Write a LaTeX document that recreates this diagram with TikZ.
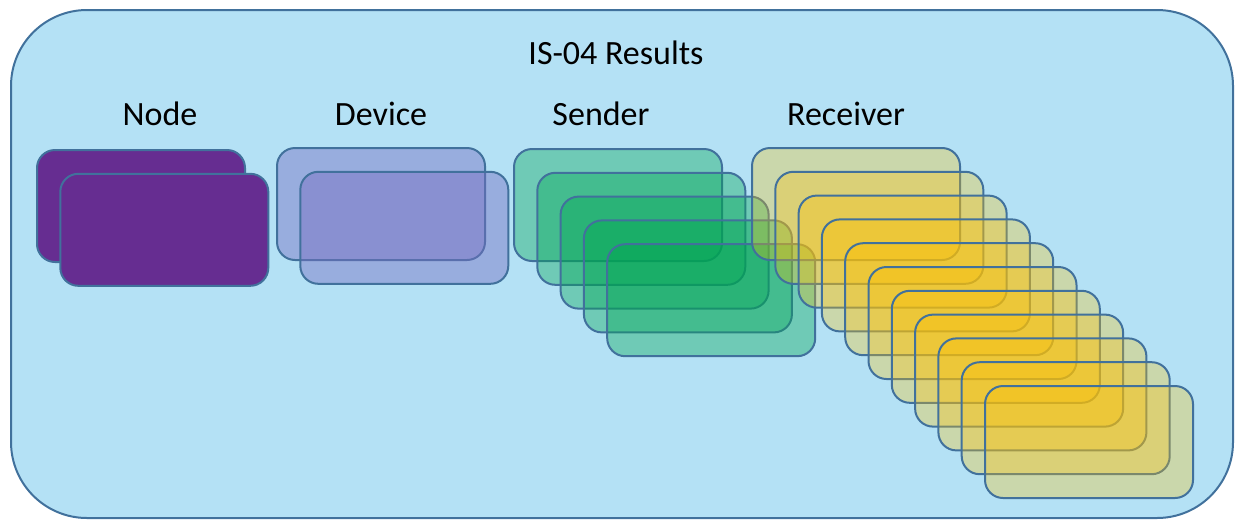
\documentclass[tikz,border=0pt]{standalone}
\usepackage{fontspec}
\setmainfont{Carlito}
\usepackage{tikz}
\usetikzlibrary{positioning}

\definecolor{panelblue}{RGB}{180,225,245}
\definecolor{edgeblue}{RGB}{65,113,156}
\definecolor{nodepurple}{RGB}{102,45,145}
\definecolor{devviolet}{RGB}{120,110,195}
\definecolor{sendgreen}{RGB}{0,166,81}
\definecolor{recvyellow}{RGB}{255,192,0}

\tikzset{
	panel/.style={draw=edgeblue,line width=1pt,fill=panelblue,rounded corners=38pt,
		minimum width=611pt,minimum height=254pt,inner sep=0pt},
	resbox/.style={draw=edgeblue,line width=1pt,rounded corners=9pt,
		minimum width=104pt,minimum height=56pt,inner sep=0pt},
	nodebox/.style={resbox,fill=nodepurple},
	devbox/.style={resbox,fill=devviolet,fill opacity=0.45},
	sndbox/.style={resbox,fill=sendgreen,fill opacity=0.38},
	rcvbox/.style={resbox,fill=recvyellow,fill opacity=0.3},
	heading/.style={font=\fontsize{17}{20}\selectfont,anchor=base},
	colhead/.style={font=\fontsize{17}{20}\selectfont,anchor=base}
}

\begin{document}
\begin{tikzpicture}[x=0.5pt,y=-0.5pt]
	\useasboundingbox (0,0) rectangle (1235,520);
	\node[panel] (frame) at (622,264) {};
	\node[heading] (title) at (616,64) {IS-04 Results};
	% column headings
	\node[colhead] (h-node) at (160,125) {Node};
	\node[colhead] (h-dev)  at (381,125) {Device};
	\node[colhead] (h-snd)  at (601,125) {Sender};
	\node[colhead] (h-rcv)  at (846,125) {Receiver};
	% stacks of resources
	\foreach \i in {0,1}
		\node[nodebox] (nd-\i) at ({141+23.3*\i},{206+23.8*\i}) {};
	\foreach \i in {0,1}
		\node[devbox] (dv-\i) at ({381+23.3*\i},{204+23.8*\i}) {};
	\foreach \i in {0,...,4}
		\node[sndbox] (sd-\i) at ({618+23.3*\i},{205+23.8*\i}) {};
	\foreach \i in {0,...,10}
		\node[rcvbox] (rv-\i) at ({856+23.3*\i},{204+23.8*\i}) {};
\end{tikzpicture}
\end{document}
